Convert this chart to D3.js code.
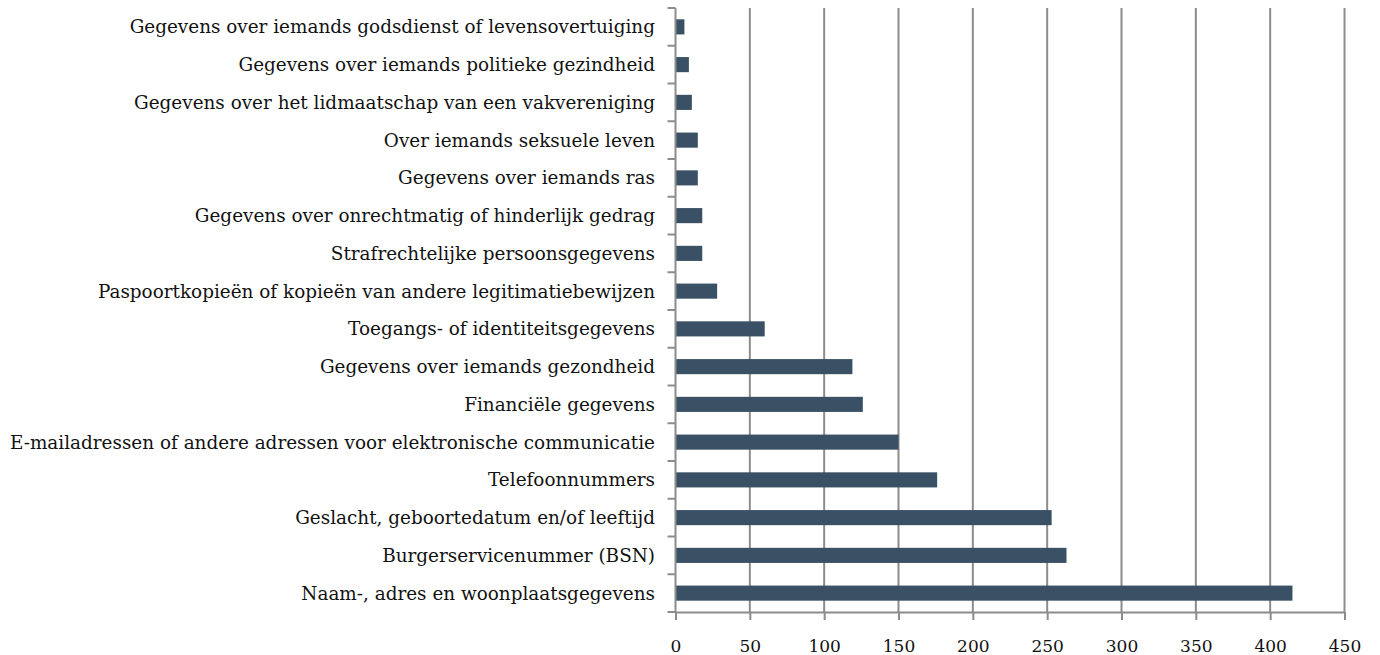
<!DOCTYPE html>
<html>
<head>
<meta charset="utf-8">
<script src="https://cdn.jsdelivr.net/npm/d3@7.9.0/dist/d3.min.js"></script>
<style>
  html, body { margin: 0; padding: 0; background: #fff; }
  svg text { font-family: "DejaVu Serif", "Liberation Serif", serif; fill: #111; }
</style>
</head>
<body>
<svg id="chart" width="1380" height="655"></svg>
<script>
// Categories, top to bottom
const categories = [
  'Gegevens over iemands godsdienst of levensovertuiging',
  'Gegevens over iemands politieke gezindheid',
  'Gegevens over het lidmaatschap van een vakvereniging',
  'Over iemands seksuele leven',
  'Gegevens over iemands ras',
  'Gegevens over onrechtmatig of hinderlijk gedrag',
  'Strafrechtelijke persoonsgegevens',
  'Paspoortkopieën of kopieën van andere legitimatiebewijzen',
  'Toegangs- of identiteitsgegevens',
  'Gegevens over iemands gezondheid',
  'Financiële gegevens',
  'E-mailadressen of andere adressen voor elektronische communicatie',
  'Telefoonnummers',
  'Geslacht, geboortedatum en/of leeftijd',
  'Burgerservicenummer (BSN)',
  'Naam-, adres en woonplaatsgegevens'
];
const counts = [6, 9, 11, 15, 15, 18, 18, 28, 60, 119, 126, 150, 176, 253, 263, 415];
const xTicks = [0, 50, 100, 150, 200, 250, 300, 350, 400, 450];

const svg = d3.select('#chart');
const plotLeft = 675.5, plotRight = 1344.5, plotTop = 8, plotBottom = 612;
const gridColor = '#8c8c8c';

const x = d3.scaleLinear().domain([0, 450]).range([plotLeft, plotRight]);
const y = d3.scaleBand().domain(categories).range([plotTop, plotBottom]).paddingInner(0.6).paddingOuter(0.3);

// vertical gridlines
svg.append('g')
  .selectAll('line')
  .data(xTicks.slice(1))
  .join('line')
  .attr('x1', d => x(d)).attr('x2', d => x(d))
  .attr('y1', plotTop).attr('y2', plotBottom)
  .attr('stroke', gridColor).attr('stroke-width', 2);

// bars
svg.append('g')
  .selectAll('rect')
  .data(categories)
  .join('rect')
  .attr('x', x(0))
  .attr('y', d => y(d))
  .attr('width', (d, i) => x(counts[i]) - x(0))
  .attr('height', y.bandwidth())
  .attr('fill', '#3a5064');

// x axis
const xAxis = svg.append('g')
  .attr('transform', `translate(0,${plotBottom})`)
  .call(d3.axisBottom(x).tickValues(xTicks).tickSize(8).tickPadding(20).tickSizeOuter(0));
xAxis.select('.domain').attr('stroke', gridColor).attr('stroke-width', 2);
xAxis.selectAll('.tick line').attr('stroke', gridColor).attr('stroke-width', 2);
xAxis.selectAll('.tick text').attr('font-size', 17).attr('fill', '#111');

// y axis: line with ticks between categories
const yAxis = svg.append('g');
yAxis.append('line')
  .attr('x1', plotLeft).attr('x2', plotLeft)
  .attr('y1', plotTop).attr('y2', plotBottom)
  .attr('stroke', gridColor).attr('stroke-width', 2);
const rowH = (plotBottom - plotTop) / categories.length;
yAxis.selectAll('line.tk')
  .data(d3.range(categories.length + 1))
  .join('line')
  .attr('class', 'tk')
  .attr('x1', plotLeft - 8).attr('x2', plotLeft)
  .attr('y1', i => plotTop + i * rowH)
  .attr('y2', i => plotTop + i * rowH)
  .attr('stroke', gridColor).attr('stroke-width', 2);

// category labels
yAxis.selectAll('text')
  .data(categories)
  .join('text')
  .attr('x', 655)
  .attr('y', d => y(d) + y.bandwidth() / 2)
  .attr('dy', '0.35em')
  .attr('text-anchor', 'end')
  .attr('font-size', 18.4)
  .text(d => d);
</script>
</body>
</html>
